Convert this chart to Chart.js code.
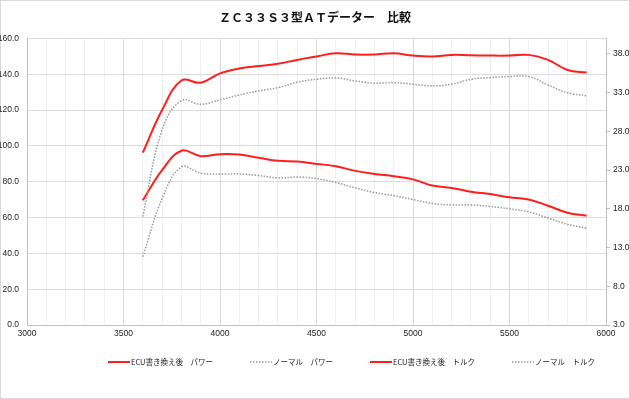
<!DOCTYPE html>
<html>
<head>
<meta charset="utf-8">
<script src="https://cdn.jsdelivr.net/npm/chart.js@4/dist/chart.umd.min.js"></script>
<style>
html,body{margin:0;padding:0;background:#fff;}
#wrap{width:630px;height:399px;position:relative;}
</style>
</head>
<body>
<div id="wrap"><canvas id="c" width="630" height="399"></canvas></div>
<script>
// ---- data ----
const titleText = "ＺＣ３３Ｓ３型ＡＴデーター　比較";
const rpm = [3600,3700,3800,3900,4000,4100,4200,4300,4400,4500,4600,4700,4800,4900,5000,5100,5200,5300,5400,5500,5600,5700,5800,5900];
const ecuPower = [96.2,120,136.5,135.3,140.5,143.2,144.6,145.8,148,149.9,151.7,151,151,151.7,150.4,149.9,150.8,150.6,150.4,150.4,150.8,148,142.4,140.9];
const normalPower = [60.5,109,125.3,123.2,125.7,128.4,130.7,132.5,135.5,137.2,137.9,136.3,135,135.3,134.4,133.5,134.4,137.2,138.1,138.7,138.7,134,129.7,128];
const ecuTorque = [19.1,23.0,25.5,24.8,25.05,25.0,24.6,24.2,24.1,23.8,23.5,22.9,22.5,22.2,21.8,21.0,20.7,20.2,19.9,19.5,19.2,18.4,17.5,17.1];
const normalTorque = [11.8,19.3,23.4,22.6,22.5,22.5,22.3,22.0,22.1,21.9,21.4,20.7,20.1,19.7,19.2,18.7,18.5,18.5,18.3,18.0,17.6,16.8,16.0,15.5];
const seriesLabels = ["ECU書き換え後　パワー","ノーマル　パワー","ECU書き換え後　トルク","ノーマル　トルク"];
const xTickLabels = [3000,3500,4000,4500,5000,5500,6000];
const leftTicks = [0,20,40,60,80,100,120,140,160];
const rightTicks = [3,8,13,18,23,28,33,38];

const pts = (ys) => rpm.map((x,i)=>({x:x,y:ys[i]}));
const RED = '#ff1e1e';
const GREY = '#9a9a9a';
const tickFont = {family:"'Liberation Sans Narrow','Liberation Sans',Arial,sans-serif", size:8.5};

const bgBorder = {
  id:'bgBorder',
  beforeDraw(chart){
    const ctx = chart.ctx;
    ctx.save();
    ctx.fillStyle = '#fff';
    ctx.fillRect(0,0,chart.width,chart.height);
    ctx.strokeStyle = '#d9d9d9';
    ctx.lineWidth = 1;
    ctx.strokeRect(0.5,0.5,chart.width-1,chart.height-1);
    ctx.restore();
  }
};

const customLegend = {
  id:'customLegend',
  afterDraw(chart){
    const ctx = chart.ctx;
    ctx.save();
    ctx.font = "7.5px 'Noto Sans CJK JP', sans-serif";
    ctx.textBaseline = 'middle';
    ctx.fillStyle = '#222';
    let x = 108;
    const y = 362;
    chart.data.datasets.forEach(ds => {
      ctx.beginPath();
      ctx.strokeStyle = ds.borderColor;
      ctx.lineWidth = ds.borderWidth;
      ctx.setLineDash(ds.borderDash || []);
      ctx.moveTo(x, y);
      ctx.lineTo(x + 22, y);
      ctx.stroke();
      ctx.setLineDash([]);
      x += 23;
      ctx.fillText(ds.label, x, y);
      x += ctx.measureText(ds.label).width + 37;
    });
    ctx.restore();
  }
};

new Chart(document.getElementById('c'), {
  type:'line',
  data:{
    datasets:[
      {label:seriesLabels[0], data:pts(ecuPower), yAxisID:'yL', borderColor:RED, borderWidth:2, tension:0.4, pointRadius:0, fill:false},
      {label:seriesLabels[1], data:pts(normalPower), yAxisID:'yL', borderColor:GREY, borderWidth:1.5, borderDash:[1.5,1.5], tension:0.4, pointRadius:0, fill:false},
      {label:seriesLabels[2], data:pts(ecuTorque), yAxisID:'yR', borderColor:RED, borderWidth:2, tension:0.4, pointRadius:0, fill:false},
      {label:seriesLabels[3], data:pts(normalTorque), yAxisID:'yR', borderColor:GREY, borderWidth:1.5, borderDash:[1.5,1.5], tension:0.4, pointRadius:0, fill:false}
    ]
  },
  options:{
    responsive:false,
    animation:false,
    devicePixelRatio:1,
    layout:{padding:{top:0,bottom:0,left:0,right:0}},
    plugins:{
      legend:{display:false},
      tooltip:{enabled:false},
      title:{display:true, text:titleText, color:'#111',
        font:{family:"'Noto Sans CJK JP',sans-serif", size:12, weight:'bold'},
        padding:{top:10,bottom:14}}
    },
    scales:{
      x:{
        type:'linear', min:3000, max:6000,
        afterBuildTicks(scale){
          const t=[];
          for(let v=scale.min; v<=scale.max; v+=100) t.push({value:v});
          scale.ticks=t;
        },
        afterFit(scale){ scale.height = 74; },
        ticks:{autoSkip:false, maxRotation:0, color:'#222', font:tickFont, padding:4,
          callback:(v)=> xTickLabels.includes(v) ? String(v) : ''},
        grid:{drawTicks:false, color:(c)=> (c.tick && xTickLabels.includes(c.tick.value)) ? '#d9d9d9' : '#f0f0f0', lineWidth:1},
        border:{display:true, color:'#bfbfbf'}
      },
      yL:{
        type:'linear', position:'left', min:0, max:160,
        afterBuildTicks(scale){ scale.ticks = leftTicks.map(v=>({value:v})); },
        afterFit(scale){ scale.width = 27; },
        ticks:{color:'#222', font:tickFont, padding:8, callback:(v)=>Number(v).toFixed(1)},
        grid:{drawTicks:false, color:'#dcdcdc', lineWidth:1},
        border:{display:true, color:'#bfbfbf'}
      },
      yR:{
        type:'linear', position:'right', min:3, max:40,
        afterBuildTicks(scale){ scale.ticks = rightTicks.map(v=>({value:v})); },
        afterFit(scale){ scale.width = 24; },
        ticks:{color:'#222', font:tickFont, padding:3, callback:(v)=>Number(v).toFixed(1)},
        grid:{drawOnChartArea:false, drawTicks:true, tickLength:4, color:'#bfbfbf'},
        border:{display:true, color:'#bfbfbf'}
      }
    }
  },
  plugins:[bgBorder, customLegend]
});
</script>
</body>
</html>
